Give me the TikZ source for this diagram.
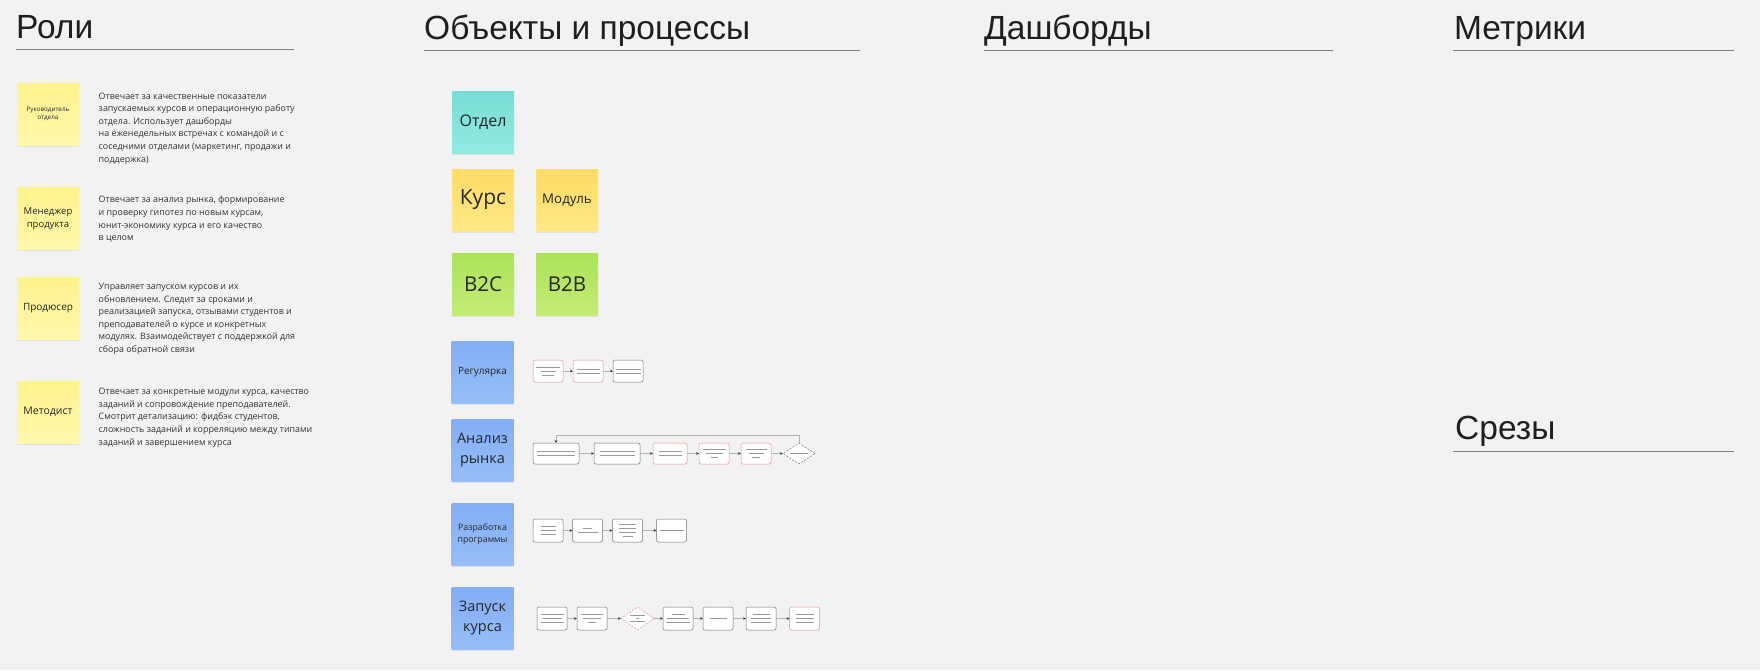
\documentclass[tikz,border=0pt]{standalone}
\usepackage{fontspec}
\setmainfont{Open Sans}
\newfontfamily\headfont{Liberation Sans}
\usetikzlibrary{arrows.meta,shapes.geometric,shadows,positioning}
\definecolor{bg}{HTML}{F2F2F2}
\definecolor{roleA}{HTML}{FFF38E}
\definecolor{roleB}{HTML}{FFF7AA}
\definecolor{yelA}{HTML}{FFDC64}
\definecolor{yelB}{HTML}{FFE886}
\definecolor{grnA}{HTML}{ABE257}
\definecolor{grnB}{HTML}{C3EC76}
\definecolor{tealA}{HTML}{76DED4}
\definecolor{tealB}{HTML}{93EAE3}
\definecolor{bluA}{HTML}{84AEF5}
\definecolor{bluB}{HTML}{95BEF8}
\definecolor{redline}{HTML}{EE8A8A}
\tikzset{
  sticky/.style={minimum width=62pt, minimum height=62pt, inner sep=1pt, align=center, text=black!85,
    drop shadow={shadow xshift=0pt, shadow yshift=-1.5pt, opacity=0.07, fill=black}},
  rolenote/.style={sticky, top color=roleA, bottom color=roleB},
  yelnote/.style={sticky, top color=yelA, bottom color=yelB},
  grnnote/.style={sticky, top color=grnA, bottom color=grnB},
  tealnote/.style={sticky, top color=tealA, bottom color=tealB},
  blunote/.style={sticky, top color=bluA, bottom color=bluB},
  pbox/.style={draw=black!55, fill=white, rounded corners=2pt, minimum width=30pt, minimum height=22pt, inner sep=0pt, line width=0.5pt},
  redbox/.style={pbox, draw=redline},
  pdia/.style={diamond, draw=black!55, dashed, dash pattern=on 2pt off 1.5pt, fill=white, minimum width=32pt, minimum height=21pt, inner sep=0pt, line width=0.5pt},
  reddia/.style={pdia, draw=redline},
  txtline/.style={draw=black!40, line width=0.9pt},
  flow/.style={draw=black!30, line width=0.6pt, -{Stealth[length=2.5pt, width=2.5pt, color=black!85]}},
  head/.style={anchor=base west, inner sep=0pt, font=\headfont\fontsize{33.5}{40}\selectfont, text=black!88},
  hline/.style={draw=black!50, line width=0.8pt},
  desc/.style={anchor=north west, align=left, inner sep=0pt, font=\fontsize{8.9}{12.6}\selectfont, text=black!80}
}
\newcommand\boxlines[2]{\foreach \w/\dy in {#2} \draw[txtline] ([shift={(-\w/2,\dy)}]#1.center) -- ++(\w,0);}
\begin{document}
\begin{tikzpicture}[x=1pt,y=-1pt]
\fill[bg] (0,0) rectangle (1760,670);
\useasboundingbox (0,0) rectangle (1760,670);
\node[head] (h-roli) at (16,38) {Роли};
\node[head] (h-obj) at (424,39) {Объекты и процессы};
\node[head] (h-dash) at (984,39) {Дашборды};
\node[head] (h-metr) at (1454,39) {Метрики};
\node[head] (h-srez) at (1455,439) {Срезы};
\draw[hline] (16,49) -- (294,49);
\draw[hline] (424,50.5) -- (860,50.5);
\draw[hline] (984,50.5) -- (1333,50.5);
\draw[hline] (1453,50.5) -- (1734,50.5);
\draw[hline] (1453,451) -- (1734,451);
\node[rolenote, font=\fontsize{6.3}{8.5}\selectfont] (ruk) at (48,114) {Руководитель\\отдела};
\node[rolenote, font=\fontsize{9.5}{12.5}\selectfont] (men) at (48,218.5) {Менеджер\\продукта};
\node[rolenote, font=\fontsize{10}{12}\selectfont] (prod) at (48,308.5) {Продюсер};
\node[rolenote, font=\fontsize{10.5}{12}\selectfont] (met) at (48,412) {Методист};
\node[desc] (d-ruk) at (98.5,92.5) {Отвечает за качественные показатели\\запускаемых курсов и операционную работу\\отдела. Использует дашборды\\на еженедельных встречах с командой и с\\соседними отделами (маркетинг, продажи и\\поддержка)};
\node[desc] (d-men) at (98.5,196) {Отвечает за анализ рынка, формирование\\и проверку гипотез по новым курсам,\\юнит-экономику курса и его качество\\в целом};
\node[desc] (d-prod) at (98.5,283) {Управляет запуском курсов и их\\обновлением. Следит за сроками и\\реализацией запуска, отзывами студентов и\\преподавателей о курсе и конкретных\\модулях. Взаимодействует с поддержкой для\\сбора обратной связи};
\node[desc] (d-met) at (98.5,388) {Отвечает за конкретные модули курса, качество\\заданий и сопровождение преподавателей.\\Смотрит детализацию: фидбэк студентов,\\сложность заданий и корреляцию между типами\\заданий и завершением курса};
\node[tealnote, font=\fontsize{16}{18}\selectfont] (otdel) at (483,122.5) {Отдел};
\node[yelnote, font=\fontsize{21}{24}\selectfont] (kurs) at (483,200) {Курс};
\node[yelnote, font=\fontsize{13.3}{16}\selectfont] (modul) at (567,200) {Модуль};
\node[grnnote, font=\fontsize{20.5}{24}\selectfont] (btc) at (483,284.5) {B2C};
\node[grnnote, font=\fontsize{20.5}{24}\selectfont] (btb) at (567,284.5) {B2B};
\node[blunote, font=\fontsize{10}{12}\selectfont] (reg) at (482.5,372.5) {Регулярка};
\node[blunote, font=\fontsize{14.5}{20}\selectfont] (analiz) at (482.5,450) {Анализ\\рынка};
\node[blunote, font=\fontsize{8.8}{12}\selectfont] (razr) at (482.5,534.5) {Разработка\\программы};
\node[blunote, font=\fontsize{14.5}{20}\selectfont] (zapusk) at (482.5,618) {Запуск\\курса};
\foreach \n/\x/\st in {r1/548/redbox, r2/588/redbox, r3/628/pbox}
  \node[\st] (\n) at (\x,371) {};
\boxlines{r1}{24/-4, 15/0, 12/4}
\boxlines{r2}{23/-2, 23/2}
\boxlines{r3}{25/-2, 25/2}
\foreach \a/\b in {r1/r2, r2/r3} \draw[flow] (\a) -- (\b);
\foreach \n/\x/\w/\st in {a1/556/46/pbox, a2/617/46/pbox, a3/670/34/redbox, a4/714/30/redbox, a5/756/30/redbox}
  \node[\st, minimum width=\w pt, minimum height=21pt] (\n) at (\x,453.5) {};
\node[pdia] (ad) at (799,453.5) {};
\boxlines{a1}{38/-2, 38/2}
\boxlines{a2}{35/-2, 35/2}
\boxlines{a3}{23/-2, 23/2}
\boxlines{a4}{23/-4, 17/0, 7/4}
\boxlines{a5}{21/-4, 15/0, 8/4}
\boxlines{ad}{18/0}
\foreach \a/\b in {a1/a2, a2/a3, a3/a4, a4/a5, a5/ad} \draw[flow] (\a) -- (\b);
\draw[flow] (ad.north) -- ++(0,-7) -| (a1.north);
\foreach \n/\x in {p1/548, p2/587.5, p3/627.5, p4/671.5}
  \node[pbox, minimum height=23pt] (\n) at (\x,530.5) {};
\boxlines{p1}{15/-4, 15/0, 15/4}
\boxlines{p2}{9/-2, 20/2}
\boxlines{p3}{17/-6, 17/-2, 17/2, 10/6}
\boxlines{p4}{24/0}
\foreach \a/\b in {p1/p2, p2/p3, p3/p4} \draw[flow] (\a) -- (\b);
\foreach \n/\x/\st in {z1/552/pbox, z2/592/pbox, z3/678/pbox, z4/718/pbox, z5/761/pbox, z6/804.5/redbox}
  \node[\st, minimum height=23pt] (\n) at (\x,618.5) {};
\node[reddia, minimum width=33pt, minimum height=23pt] (zd) at (637.5,618.5) {};
\boxlines{z1}{23/-4, 19/0, 23/4}
\boxlines{z2}{22/-4, 18/0, 8/4}
\boxlines{zd}{15/-3, 3/0, 15/3}
\boxlines{z3}{13/-4, 22/0, 24/4}
\boxlines{z4}{17/0}
\boxlines{z5}{17/-4, 20/0, 20/4}
\boxlines{z6}{18/-4, 18/0, 18/4}
\foreach \a/\b in {z1/z2, z2/zd, zd/z3, z3/z4, z4/z5, z5/z6} \draw[flow] (\a) -- (\b);
\end{tikzpicture}
\end{document}
